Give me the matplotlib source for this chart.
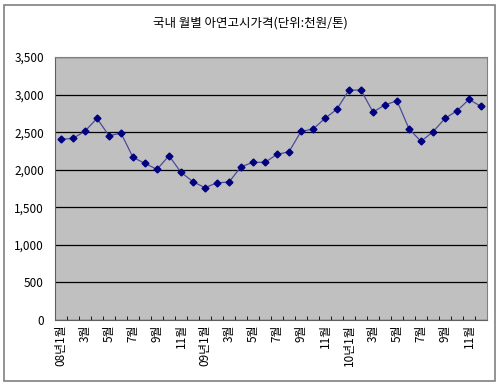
import numpy as np
import matplotlib
matplotlib.use('Agg')
import matplotlib.pyplot as plt
from matplotlib.patches import Rectangle
from matplotlib.ticker import FuncFormatter

plt.rcParams['font.family'] = ['Noto Sans CJK KR', 'DejaVu Sans']

title = '국내 월별 아연고시가격(단위:천원/톤)'
months = ['08년1월', '2월', '3월', '4월', '5월', '6월', '7월', '8월', '9월', '10월', '11월', '12월',
          '09년1월', '2월', '3월', '4월', '5월', '6월', '7월', '8월', '9월', '10월', '11월', '12월',
          '10년1월', '2월', '3월', '4월', '5월', '6월', '7월', '8월', '9월', '10월', '11월', '12월']
prices = [2405, 2418, 2515, 2684, 2453, 2488, 2165, 2085, 2005, 2187, 1966, 1841,
          1761, 1827, 1836, 2040, 2099, 2099, 2205, 2240, 2511, 2542, 2684, 2808,
          3061, 3061, 2768, 2865, 2918, 2546, 2378, 2506, 2684, 2786, 2936, 2844]

fig = plt.figure(figsize=(5, 3.86), dpi=100)
fig.patches.append(Rectangle((0.008, 0.012), 0.982, 0.976, transform=fig.transFigure,
                             fill=False, edgecolor='#808080', linewidth=1.2))

ax = fig.add_axes([0.11, 0.171, 0.864, 0.681])
ax.set_facecolor('#C0C0C0')
x = np.arange(len(prices))
ax.plot(x, prices, color='#4B4B9A', linewidth=0.9, marker='D', markersize=3.5,
        markerfacecolor='#000080', markeredgecolor='#000080', zorder=3)

ax.set_ylim(0, 3500)
ax.set_yticks(np.arange(0, 3501, 500))
ax.yaxis.set_major_formatter(FuncFormatter(lambda v, p: f'{int(v):,}'))
ax.yaxis.grid(True, color='black', linewidth=0.9)
ax.set_axisbelow(True)

ax.set_xlim(-0.5, len(prices) - 0.5)
ax.set_xticks(x[::2])
ax.set_xticklabels(months[::2], rotation=90, va='top', ha='center')
ax.set_xticks(np.arange(-0.5, len(prices), 1), minor=True)
ax.tick_params(axis='x', which='major', length=0, labelsize=8.5, pad=3)
ax.tick_params(axis='x', which='minor', length=3, direction='in')
ax.tick_params(axis='y', labelsize=8.5, length=0, pad=8)

for s in ['top', 'right']:
    ax.spines[s].set_color('#808080')
for s in ['left', 'bottom']:
    ax.spines[s].set_color('#606060')

fig.text(0.5, 0.94, title, ha='center', va='center', fontsize=9)

fig.savefig('out.png', dpi=100)
